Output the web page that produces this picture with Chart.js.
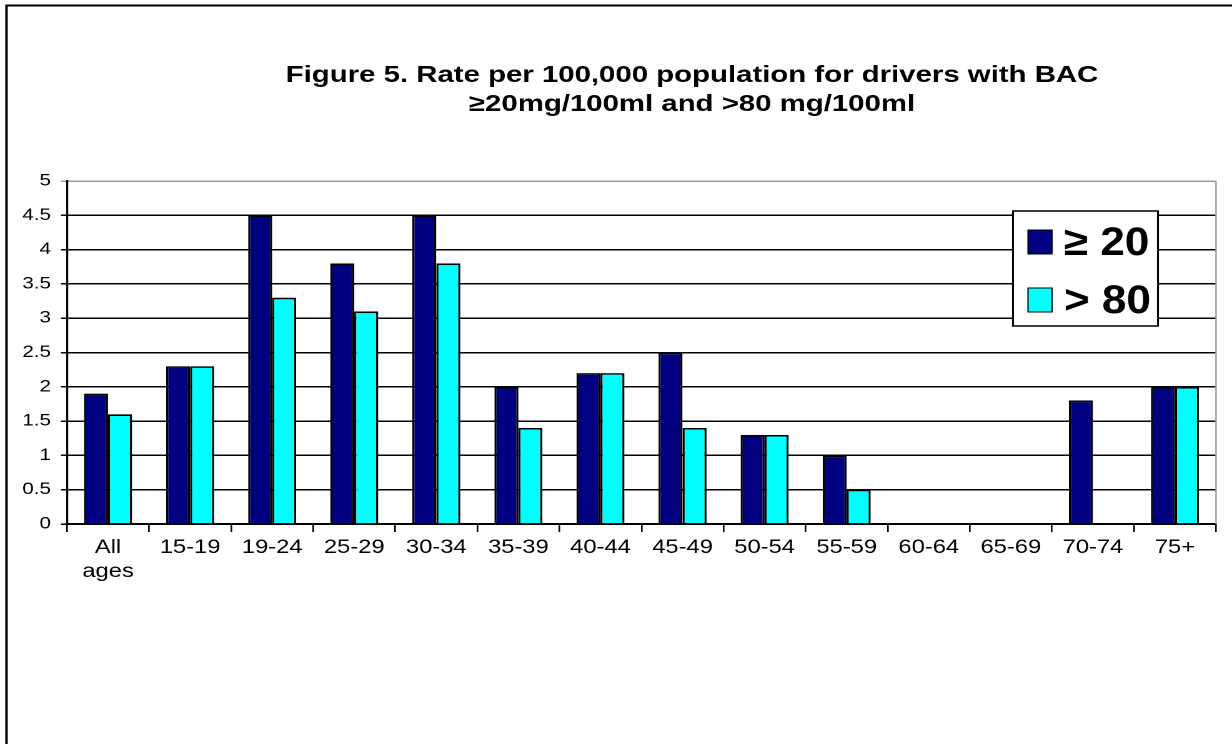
<!DOCTYPE html>
<html>
<head>
<meta charset="utf-8">
<script src="https://cdn.jsdelivr.net/npm/chart.js@4"></script>
<style>
  html, body { margin: 0; padding: 0; background: #fff; }
  #wrap { width: 1232px; height: 744px; overflow: hidden; }
</style>
</head>
<body>
<!-- the original figure is horizontally stretched, so the canvas is drawn
     narrower and widened by its inline style -->
<div id="wrap"><canvas id="chart" width="986" height="744" style="width:1232px;height:744px;display:block"></canvas></div>
<script>
        // Data
        const ageGroups = [['All', 'ages'], '15-19', '19-24', '25-29', '30-34', '35-39', '40-44', '45-49', '50-54', '55-59', '60-64', '65-69', '70-74', '75+'];
        const bac20 = [1.9, 2.3, 4.5, 3.8, 4.5, 2.0, 2.2, 2.5, 1.3, 1.0, 0, 0, 1.8, 2.0];
        const bac80 = [1.6, 2.3, 3.3, 3.1, 3.8, 1.4, 2.2, 1.4, 1.3, 0.5, 0, 0, 0, 2.0];
        const seriesNames = ['\u2265 20', '> 80'];
        const yTicks = [0, 0.5, 1, 1.5, 2, 2.5, 3, 3.5, 4, 4.5, 5];
        const titleLines = ['Figure 5. Rate per 100,000 population for drivers with BAC', '\u226520mg/100ml and >80 mg/100ml'];

        const navy = '#000080';
        const cyan = '#00FFFF';
        const fontFamily = '"Liberation Sans", Arial, sans-serif';
        const stretch = 1232 / 986;   // css px per canvas px, horizontally
        const X = px => px / stretch;  // screen x -> canvas x

        // Background, outer frame, title and the boxed legend
        const framePlugin = {
            id: 'frame',
            beforeDraw(chart) {
                const c = chart.ctx;
                c.save();
                c.fillStyle = '#fff';
                c.fillRect(0, 0, chart.width, chart.height);
                c.strokeStyle = '#000';
                c.lineWidth = 2;
                c.beginPath();
                c.moveTo(X(6.5), chart.height);
                c.lineTo(X(6.5), 5.5);
                c.lineTo(chart.width, 5.5);
                c.stroke();

                c.fillStyle = '#000';
                c.font = 'bold 23.5px ' + fontFamily;
                c.textAlign = 'center';
                c.textBaseline = 'alphabetic';
                c.fillText(titleLines[0], X(692), 82);
                c.fillText(titleLines[1], X(692), 111);
                c.restore();
            },
            afterDraw(chart) {
                const c = chart.ctx;
                const a = chart.chartArea;
                c.save();
                // grey plot-area edge on the right
                c.strokeStyle = '#999';
                c.lineWidth = 1.2;
                c.beginPath();
                c.moveTo(a.right, a.top);
                c.lineTo(a.right, a.bottom);
                c.stroke();

                const bx = X(1013), by = 211, bw = X(1158) - X(1013), bh = 115;
                c.fillStyle = '#fff';
                c.fillRect(bx, by, bw, bh);
                c.strokeStyle = '#000';
                c.lineWidth = 1.5;
                c.strokeRect(bx, by, bw, bh);
                chart.data.datasets.forEach((ds, i) => {
                    const cy = 242 + i * 58;
                    c.fillStyle = ds.backgroundColor;
                    c.fillRect(X(1028), cy - 12, X(24), 24);
                    c.strokeStyle = '#000';
                    c.lineWidth = 1;
                    c.strokeRect(X(1028), cy - 12, X(24), 24);
                    c.save();
                    c.translate(X(1064), cy + 2);
                    c.scale(1.1 / stretch, 1);
                    c.fillStyle = '#000';
                    c.font = 'bold 40px ' + fontFamily;
                    c.textBaseline = 'middle';
                    c.textAlign = 'left';
                    c.fillText(ds.label, 0, 0);
                    c.restore();
                });
                c.restore();
            }
        };

        const ctx = document.getElementById('chart').getContext('2d');
        const chart = new Chart(ctx, {
            type: 'bar',
            data: {
                labels: ageGroups,
                datasets: [{
                    label: seriesNames[0],
                    data: bac20,
                    backgroundColor: navy,
                    borderColor: '#000',
                    borderWidth: 1.7
                }, {
                    label: seriesNames[1],
                    data: bac80,
                    backgroundColor: cyan,
                    borderColor: '#000',
                    borderWidth: 1.7
                }]
            },
            options: {
                responsive: false,
                animation: false,
                devicePixelRatio: 2,
                categoryPercentage: 0.585,
                barPercentage: 1,
                layout: {
                    padding: { left: 0, top: 181, right: 986 - X(1216), bottom: 130 }
                },
                plugins: {
                    legend: { display: false },
                    title: { display: false },
                    tooltip: { enabled: false }
                },
                scales: {
                    x: {
                        afterFit: function(scale) { scale.height = 90; },
                        grid: {
                            offset: true,
                            drawOnChartArea: false,
                            drawTicks: true,
                            tickLength: 8,
                            color: '#000',
                            lineWidth: 1.3
                        },
                        border: { display: true, color: '#000', width: 2 },
                        ticks: {
                            color: '#000',
                            padding: 4,
                            maxRotation: 0,
                            autoSkip: false,
                            font: { family: fontFamily, size: 19, lineHeight: 1.26 }
                        }
                    },
                    y: {
                        min: 0,
                        max: 5,
                        afterFit: function(scale) { scale.width = X(67); },
                        afterBuildTicks: function(scale) {
                            scale.ticks = yTicks.map(v => ({ value: v }));
                        },
                        grid: {
                            color: ctx => ctx.tick && ctx.tick.value === 5 ? '#999' : '#000',
                            lineWidth: 1.5,
                            drawTicks: true,
                            tickLength: X(6)
                        },
                        border: { display: true, color: '#000', width: 1.6 },
                        ticks: {
                            color: '#000',
                            padding: X(10),
                            callback: v => String(v),
                            font: { family: fontFamily, size: 16.5 }
                        }
                    }
                }
            },
            plugins: [framePlugin]
        });
</script>
</body>
</html>
